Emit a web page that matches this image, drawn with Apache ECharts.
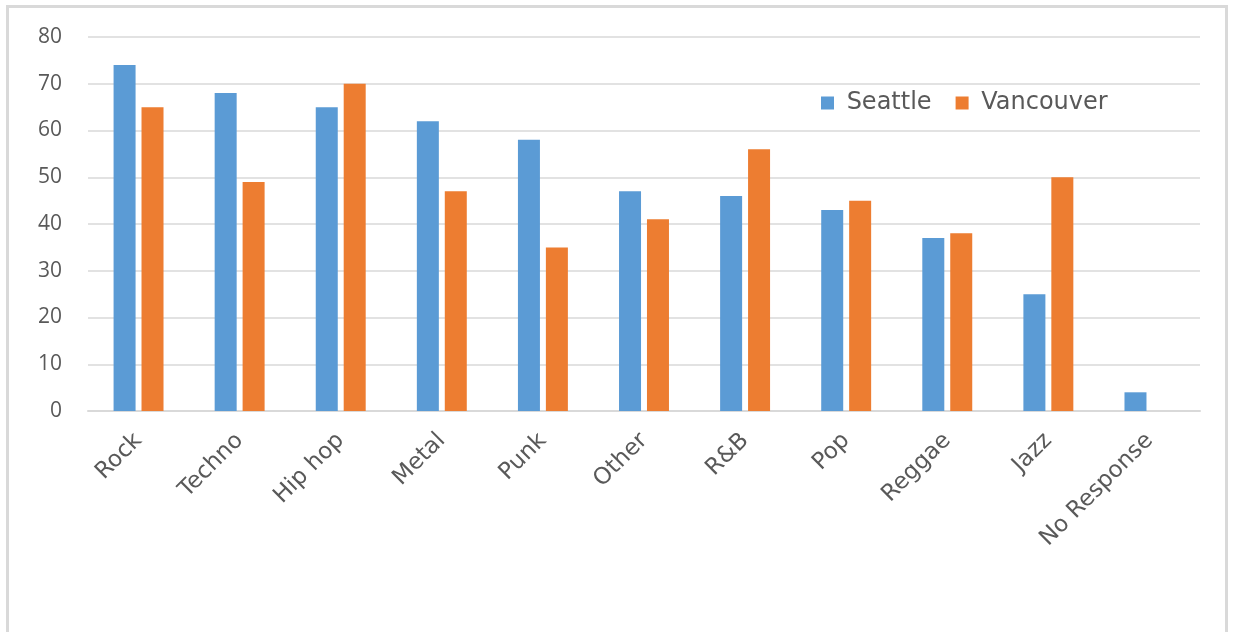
<!DOCTYPE html>
<html lang="en">
<head>
    <meta charset="UTF-8">
    <title>Music genres: Seattle vs Vancouver</title>
    <script src="https://cdn.jsdelivr.net/npm/echarts@6.0.0/dist/echarts.min.js"></script>
    <style>
        body {
            margin: 0;
            padding: 0;
            background: #fff;
            overflow: hidden;
        }
        .frame {
            position: absolute;
            left: 6px;
            top: 5px;
            width: 1222px;
            height: 640px;
            border: 3px solid #d9d9d9;
            box-sizing: border-box;
        }
        #chart {
            position: absolute;
            left: 0;
            top: 0;
            width: 1235px;
            height: 632px;
        }
    </style>
</head>
<body>
    <div class="frame"></div>
    <div id="chart"></div>
    <script>
        // categories and values
        const genres = ['Rock', 'Techno', 'Hip hop', 'Metal', 'Punk', 'Other', 'R&B', 'Pop', 'Reggae', 'Jazz', 'No Response'];
        const seattle = [74, 68, 65, 62, 58, 47, 46, 43, 37, 25, 4];
        const vancouver = [65, 49, 70, 47, 35, 41, 56, 45, 38, 50, null];
        const yTicks = { min: 0, max: 80, interval: 10 };

        const fontFamily = "'Open Sans', 'Liberation Sans', sans-serif";
        const wideFont = "'DejaVu Sans', 'Open Sans', sans-serif";
        const textColor = '#595959';

        const myChart = echarts.init(document.getElementById('chart'));

        const option = {
            backgroundColor: 'transparent',
            textStyle: { fontFamily: fontFamily },
            legend: {
                left: 816,
                top: 86,
                itemWidth: 13,
                itemHeight: 13,
                itemGap: 24,
                icon: 'rect',
                formatter: name => ' ' + name,
                textStyle: { fontSize: 24, color: textColor, fontFamily: wideFont },
                data: ['Seattle', 'Vancouver']
            },
            grid: {
                left: 88,
                right: 35,
                top: 37,
                bottom: 221
            },
            xAxis: {
                type: 'category',
                data: genres,
                axisTick: { show: false },
                axisLine: { lineStyle: { color: '#d9d9d9', width: 2 } },
                axisLabel: {
                    rotate: 45,
                    interval: 0,
                    margin: 26,
                    fontSize: 23,
                    color: textColor,
                    fontFamily: wideFont
                }
            },
            yAxis: {
                type: 'value',
                min: yTicks.min,
                max: yTicks.max,
                interval: yTicks.interval,
                axisLine: { show: false },
                axisTick: { show: false },
                splitLine: { lineStyle: { color: '#d9d9d9', width: 1.5 } },
                axisLabel: {
                    margin: 26,
                    fontSize: 21,
                    color: textColor,
                    fontFamily: fontFamily
                }
            },
            series: [
                {
                    name: 'Seattle',
                    type: 'bar',
                    data: seattle,
                    barWidth: 22,
                    barGap: '27%',
                    itemStyle: { color: '#5b9bd5' }
                },
                {
                    name: 'Vancouver',
                    type: 'bar',
                    data: vancouver,
                    barWidth: 22,
                    itemStyle: { color: '#ed7d31' }
                }
            ]
        };

        myChart.setOption(option);
    </script>
</body>
</html>
